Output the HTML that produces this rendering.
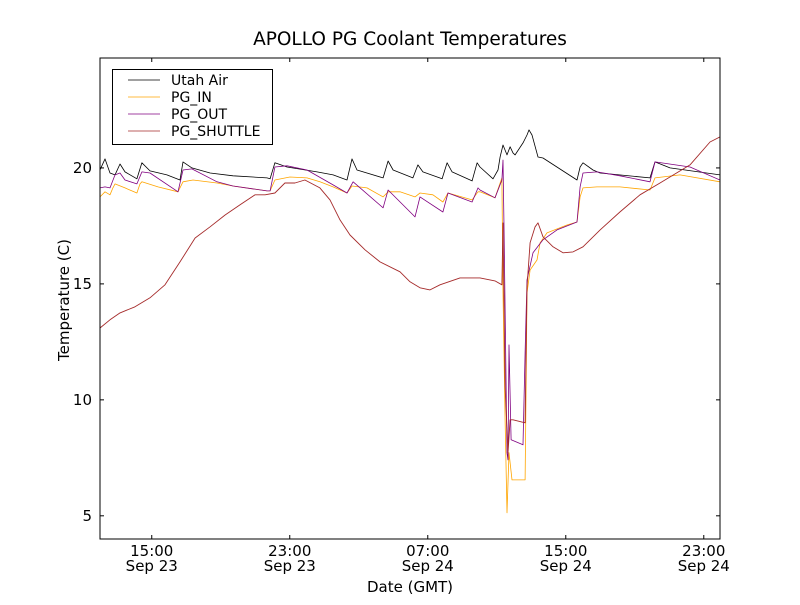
<!DOCTYPE html>
<html><head><meta charset="utf-8"><style>
body{margin:0;background:#fff}
svg text{font-family:"DejaVu Sans","Liberation Sans",sans-serif}
</style></head><body>
<svg id="chart" width="800" height="600" viewBox="0 0 800 600">
<rect x="0" y="0" width="800" height="600" fill="#fff"/>
<text x="410" y="45" font-size="18.5" text-anchor="middle">APOLLO PG Coolant Temperatures</text>
<g id="plot"></g>
<text x="410" y="592" font-size="15" text-anchor="middle">Date (GMT)</text>
<text x="69" y="300" font-size="15" text-anchor="middle" transform="rotate(-90 69 300)">Temperature (C)</text>
</svg>
<script>
// hours since 12:00 Sep 23 (GMT)
const xTickHours = [3, 11, 19, 27, 35];
const xTickTimes = ["15:00", "23:00", "07:00", "15:00", "23:00"];
const xTickDates = ["Sep 23", "Sep 23", "Sep 24", "Sep 24", "Sep 24"];
const yTicks = [5, 10, 15, 20];
const seriesNames = ["Utah Air", "PG_IN", "PG_OUT", "PG_SHUTTLE"];
const seriesColors = ["#000000", "#ffa500", "#800080", "#a52a2a"];

const airTimes = [0,.29,.58,.87,1.16,1.45,2.14,2.43,2.90,3.88,4.64,4.81,5.33,6.38,7.71,9.68,9.86,10.14,10.84,12.58,13.51,14.32,14.61,14.90,16.41,16.70,16.99,18.14,18.43,18.72,19.83,20.12,20.41,21.57,21.86,22.03,22.78,23.07,23.19,23.36,23.59,23.77,23.94,24.06,24.52,24.75,24.87,25.04,25.39,25.68,27.65,27.83,28.00,28.58,28.99,31.88,32.17,33.04,35.94];
const airTemps = [19.91,20.39,19.78,19.70,20.17,19.83,19.53,20.22,19.87,19.70,19.48,20.26,20.0,19.78,19.66,19.57,19.53,20.22,20.04,19.83,19.70,19.48,20.39,19.91,19.57,20.30,19.91,19.57,20.13,19.83,19.53,20.22,19.83,19.44,20.22,20.04,19.53,19.91,20.47,20.99,20.56,20.91,20.65,20.56,21.08,21.42,21.64,21.42,20.47,20.43,19.48,20.04,20.22,19.91,19.78,19.57,20.26,20.0,19.70];

const inTimes = [0,.29,.58,.75,.87,1.45,2.14,2.32,2.43,3.36,4.52,4.81,5.39,6.78,7.71,9.68,9.86,10.14,11.01,12.0,12.75,13.51,14.32,14.61,15.48,16.41,16.70,17.39,18.26,18.55,19.30,19.88,20.17,21.57,21.91,22.03,22.90,23.30,23.36,23.48,23.59,23.71,23.88,24.64,24.70,24.75,24.93,25.33,25.51,25.91,27.07,27.65,27.83,28.00,28.81,30.14,31.88,32.17,33.62,35.94];
const inTemps = [18.75,18.97,18.84,19.14,19.31,19.14,18.92,19.31,19.40,19.18,18.97,19.40,19.48,19.35,19.22,19.01,19.01,19.48,19.61,19.57,19.40,19.18,18.92,19.22,19.14,18.75,18.97,18.97,18.75,18.92,18.84,18.53,18.92,18.62,18.97,18.97,18.71,19.57,14.61,9.14,5.13,7.72,6.55,6.55,10.56,14.61,15.60,16.03,16.77,17.20,17.54,17.67,18.75,19.14,19.18,19.18,19.05,19.57,19.70,19.40];

const outTimes = [0,.29,.58,.87,1.16,1.45,2.14,2.43,2.90,4.52,4.81,5.33,6.78,7.71,9.68,9.86,10.14,10.84,12.0,13.51,14.32,14.67,16.41,16.70,18.26,18.55,19.88,20.17,21.57,21.91,22.03,22.90,23.30,23.36,23.42,23.59,23.65,23.71,23.83,24.52,24.64,24.75,25.10,25.68,26.49,27.65,27.83,28.00,28.81,30.14,31.88,32.17,34.20,35.94];
const outTemps = [19.14,19.18,19.14,19.70,19.78,19.48,19.31,19.83,19.78,18.97,19.91,19.96,19.40,19.22,19.01,19.01,20.04,20.09,19.91,19.27,18.92,19.40,18.28,19.05,17.89,18.75,18.10,18.92,18.53,19.14,19.05,18.71,19.48,20.34,17.46,7.72,7.41,12.37,8.28,8.06,12.03,15.17,16.34,16.90,17.33,17.67,19.18,19.78,19.83,19.66,19.40,20.26,20.04,19.48];

const shuttleTimes = [0,.58,1.16,2.03,2.90,3.77,4.64,5.51,6.38,7.25,8.12,8.99,9.57,10.14,10.72,11.30,11.88,12.75,13.33,13.91,14.49,15.36,16.23,17.39,17.97,18.55,19.13,19.71,20.87,22.03,22.90,23.30,23.36,23.48,23.65,23.77,23.94,24.64,24.75,24.93,25.22,25.39,25.68,26.26,26.84,27.42,28.00,28.99,30.14,31.30,32.46,34.20,35.36,35.94];
const shuttleTemps = [13.10,13.45,13.75,14.01,14.40,14.96,15.95,16.98,17.46,17.97,18.41,18.84,18.84,18.92,19.35,19.35,19.48,19.14,18.62,17.76,17.11,16.47,15.95,15.52,15.09,14.83,14.74,14.96,15.26,15.26,15.13,14.96,17.63,10.56,7.72,9.14,9.14,9.01,14.87,16.77,17.46,17.63,17.03,16.60,16.34,16.38,16.60,17.33,18.10,18.84,19.35,20.13,21.12,21.34];

const allTimes = [airTimes, inTimes, outTimes, shuttleTimes];
const allTemps = [airTemps, inTemps, outTemps, shuttleTemps];

const L = 100, R = 720, T = 58, B = 539;
const xMin = 0, xMax = 35.94, yMin = 4, yMax = 24.74;
const xs = h => L + (h - xMin) / (xMax - xMin) * (R - L);
const ys = v => B - (v - yMin) / (yMax - yMin) * (B - T);
const NS = "http://www.w3.org/2000/svg";
const plot = document.getElementById("plot");
function mk(tag, attrs, parent) {
  const e = document.createElementNS(NS, tag);
  for (const k in attrs) e.setAttribute(k, attrs[k]);
  (parent || plot).appendChild(e);
  return e;
}

const clip = mk("clipPath", {id: "clip"});
mk("rect", {x: L, y: T, width: R - L, height: B - T}, clip);

const lines = mk("g", {"clip-path": "url(#clip)"});


[0, 1, 2, 3].forEach(i => {
  const d = allTimes[i].map((t, j) => (j ? "L" : "M") + xs(t).toFixed(1) + "," + ys(allTemps[i][j]).toFixed(1)).join("");
  const p = mk("path", {d: d, fill: "none", stroke: seriesColors[i], "stroke-width": i === 3 ? 0.9 : 0.8, "stroke-linejoin": "round"}, lines);
  
  
});

const frame = mk("rect", {x: L, y: T, width: R - L, height: B - T, fill: "none", stroke: "#000", "stroke-width": 1});



xTickHours.forEach((h, i) => {
  const x = xs(h);
  const t1 = mk("line", {x1: x, x2: x, y1: B, y2: B - 4, stroke: "#000"});
  
  
  const t2 = mk("line", {x1: x, x2: x, y1: T, y2: T + 4, stroke: "#000"});
  
  
  const lab = mk("text", {x: x, y: B + 17, "font-size": 15, "text-anchor": "middle"});
  lab.textContent = xTickTimes[i];
  
  
  const lab2 = mk("text", {x: x, y: B + 32, "font-size": 15, "text-anchor": "middle"});
  lab2.textContent = xTickDates[i];
  
  
});

yTicks.forEach(v => {
  const y = ys(v);
  const t1 = mk("line", {x1: L, x2: L + 4, y1: y, y2: y, stroke: "#000"});
  
  
  const t2 = mk("line", {x1: R, x2: R - 4, y1: y, y2: y, stroke: "#000"});
  
  
  const lab = mk("text", {x: L - 8, y: y + 5, "font-size": 15, "text-anchor": "end"});
  lab.textContent = v;
  
  
});

const legend = mk("g", {});


mk("rect", {x: 112.5, y: 69.5, width: 160, height: 75, fill: "#fff", stroke: "#000", "stroke-width": 1}, legend);
seriesNames.forEach((n, i) => {
  const y = 80 + i * 17;
  const g = mk("g", {}, legend);
  
  
  mk("line", {x1: 128, x2: 160, y1: y, y2: y, stroke: seriesColors[i], "stroke-width": 0.8}, g);
  const t = mk("text", {x: 171, y: y + 5, "font-size": 14}, g);
  t.textContent = n;
});
</script>
</body></html>
